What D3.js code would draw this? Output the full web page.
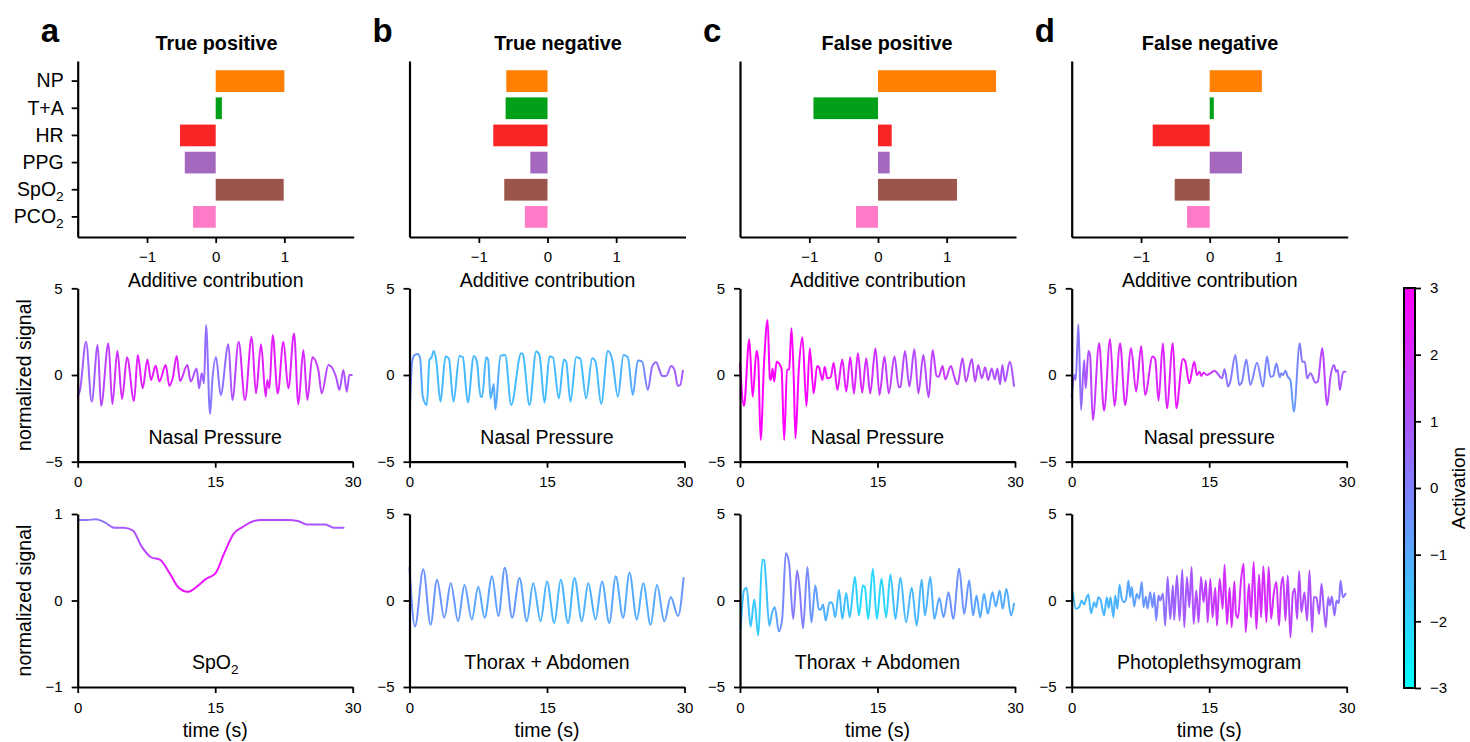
<!DOCTYPE html>
<html>
<head>
<meta charset="utf-8">
<script src="https://cdn.jsdelivr.net/npm/d3@7"></script>
<style>
  body { margin: 0; background: #fff; }
  svg { font-family: "Liberation Sans", Arial, Helvetica, sans-serif; }
</style>
</head>
<body>
<svg id="fig" width="1470" height="742"></svg>
<script>
// ---------- data ----------
const features = ["NP", "T+A", "HR", "PPG", "SpO₂", "PCO₂"];
const featureColors = ["#ff7f00", "#00a018", "#fa2525", "#a468be", "#9c554a", "#ff7ac7"];
const panelLetters = ["a", "b", "c", "d"];
const panelTitles = ["True positive", "True negative", "False positive", "False negative"];

// additive contribution of each feature, one array per panel
const contribTP = [1.0, 0.09, -0.52, -0.45, 0.99, -0.33];
const contribTN = [-0.6, -0.61, -0.79, -0.25, -0.63, -0.33];
const contribFP = [1.72, -0.94, 0.2, 0.17, 1.15, -0.32];
const contribFN = [0.76, 0.06, -0.83, 0.47, -0.51, -0.33];

const contribTicks = [-1, 0, 1];
const timeTicks = [0, 15, 30];
const signalTicks = [-5, 0, 5];
const spo2Ticks = [-1, 0, 1];
const activationTicks = [-3, -2, -1, 0, 1, 2, 3];

const midLabels = ["Nasal Pressure", "Nasal Pressure", "Nasal Pressure", "Nasal pressure"];
const botLabels = ["SpO₂", "Thorax + Abdomen", "Thorax + Abdomen", "Photoplethsymogram"];

// signals: [time (s), normalized value]
const tpNasal = [[0,-1.25],[0.25,-0.87],[0.91,1.92],[1.53,-1.54],[2.18,1.73],[2.55,-1.79],[3.35,1.83],[3.78,-1.69],[4.33,1.4],[4.84,-1.38],[5.38,1.02],[6.15,-1.5],[6.55,1.15],[7.09,-0.77],[7.6,0.9],[8.0,-0.29],[8.51,0.54],[8.91,-0.38],[9.6,0.58],[10.0,-0.63],[10.36,-0.19],[10.8,1.1],[11.16,-0.35],[11.96,0.58],[12.33,-0.38],[12.98,0.38],[13.24,-0.77],[13.53,0.1],[13.78,-0.48],[14.0,2.88],[14.44,-2.25],[14.69,-0.29],[15.09,1.02],[15.6,-1.15],[16.44,1.77],[16.87,-1.44],[17.56,1.92],[18.25,-1.44],[18.98,2.21],[19.45,-1.06],[20.0,1.77],[20.51,-1.25],[20.69,-0.29],[20.91,-0.77],[21.27,2.31],[21.82,-1.06],[22.44,1.92],[22.98,-0.77],[23.6,2.4],[24.07,-1.69],[24.62,1.44],[25.05,-1.44],[25.6,1.02],[26.25,0.29],[26.62,-1.06],[27.35,0.58],[28.18,-0.1],[28.55,-0.87],[28.98,0.29],[29.35,-0.96],[29.64,0],[29.9,0]];
const tnNasal = [[0.07,-1.54],[0.29,0.77],[0.55,1.15],[0.91,1.21],[1.16,0.96],[1.45,-1.25],[1.89,-1.73],[2.18,0.87],[2.4,1.02],[2.65,1.38],[2.91,0.87],[3.38,-1.54],[3.93,1.06],[4.29,0.96],[4.8,-1.54],[5.45,1.1],[5.82,1.02],[6.36,-1.58],[7.02,1.1],[7.35,0.77],[7.75,-1.25],[7.93,-1.25],[8.36,1.02],[8.58,0.87],[8.84,-1.35],[9.2,-0.52],[9.35,-1.98],[9.93,1.1],[10.44,1.15],[11.09,-1.73],[12.18,1.25],[12.36,1.21],[13.09,-1.73],[13.82,1.35],[14.18,1.15],[14.73,-1.6],[15.27,1.06],[15.64,1.02],[16.29,-1.35],[16.84,0.9],[17.09,0.77],[17.56,-1.54],[18.18,1.02],[18.62,0.96],[19.27,-1.35],[19.93,0.96],[20.29,0.77],[20.91,-1.67],[21.64,1.38],[22.11,0.9],[22.73,-1.25],[23.35,1.15],[23.82,1.02],[24.36,-1.15],[24.91,0.83],[25.38,0.77],[26.0,-0.87],[26.47,0.48],[26.91,0.73],[27.27,0.29],[27.56,-0.06],[28.0,-0.06],[28.55,0.52],[28.91,0.29],[29.27,-0.63],[29.53,-0.58],[29.82,0.25]];
const fpNasal = [[0,0.67],[0.43,-1.79],[1.01,2.06],[1.38,-1.25],[1.81,1.4],[1.99,0.87],[2.25,-3.75],[2.64,0.87],[3.01,3.17],[3.26,-0.19],[3.37,-0.29],[3.55,0.38],[3.73,-0.38],[3.99,0.77],[4.53,0.38],[4.82,-3.75],[5.14,0.29],[5.36,0.33],[5.62,2.69],[5.87,-0.29],[6.05,-3.65],[6.41,0.29],[6.81,2.17],[7.25,-1.79],[7.61,1.54],[8.04,-1.06],[8.41,0.52],[8.62,0.44],[8.99,-0.29],[9.24,0.48],[9.53,-0.19],[9.89,-0.13],[10.22,0.71],[10.62,-0.87],[11.16,0.9],[11.59,-0.96],[12.03,1.02],[12.43,-1.06],[12.86,1.25],[13.33,-1.02],[13.77,0.96],[14.2,-1.06],[14.78,1.54],[15.22,-1.15],[15.76,1.06],[16.23,-1.06],[16.85,1.06],[17.32,-0.71],[17.5,-0.67],[18.0,1.38],[18.48,-0.67],[19.02,1.48],[19.46,-1.06],[20.0,1.15],[20.58,-1.29],[21.01,1.44],[21.45,-0.06],[21.67,-0.1],[22.1,0.52],[22.39,-0.25],[23.01,0.52],[23.37,-0.1],[23.73,-0.54],[24.28,0.96],[24.64,-0.38],[25.29,0.92],[25.65,-0.38],[25.98,0.58],[26.38,-0.19],[26.74,0.44],[27.07,-0.29],[27.46,0.38],[27.79,-0.25],[28.08,0.38],[28.37,-0.54],[28.62,0.58],[28.91,-0.38],[29.42,0.77],[29.89,-0.63]];
const fnNasal = [[0,-1.25],[0.29,0],[0.44,-0.29],[0.73,2.92],[1.02,-2.02],[1.35,0.87],[1.53,-0.77],[1.82,1.38],[2.0,1.15],[2.3,-2.6],[2.99,1.83],[3.53,-2.06],[4.19,2.08],[4.66,-1.79],[5.28,1.83],[5.83,-1.73],[6.48,1.54],[7.03,-0.96],[7.58,1.67],[8.01,-1.15],[8.82,1.06],[9.11,0.9],[9.47,-1.48],[9.95,1.83],[10.38,-1.92],[11.04,1.83],[11.4,-1.92],[12.13,0.92],[12.39,0.77],[12.82,-0.48],[13.37,0.77],[13.66,0],[13.95,0.19],[14.13,-0.06],[14.39,0.13],[14.75,0],[15.12,0.1],[15.59,0.25],[16.03,0],[16.39,-0.19],[16.68,0.33],[17.05,-0.67],[17.3,-0.38],[17.85,1.15],[18.29,-0.58],[18.58,-0.38],[19.05,0.9],[19.49,-0.58],[20.22,0.71],[20.87,-0.67],[21.31,1.06],[21.68,-0.1],[21.97,-0.06],[22.33,0.67],[22.7,-0.13],[22.84,0.1],[23.06,0],[23.32,0.25],[23.57,-0.1],[23.86,-0.29],[24.23,-2.12],[24.88,1.83],[25.14,0.77],[25.43,0.77],[25.68,-0.19],[26.05,0.1],[26.59,-0.44],[26.85,-0.38],[27.32,1.54],[27.87,-1.73],[28.23,-0.1],[28.6,0.58],[28.85,0.19],[29.03,0.29],[29.25,-0.87],[29.62,0.19],[29.87,0.19]];
const tpSpO2 = [[0,0.93],[1,0.93],[2,0.94],[3,0.9],[4,0.84],[5,0.84],[6,0.81],[7,0.62],[8,0.5],[9,0.47],[10,0.32],[11,0.15],[12,0.1],[13,0.16],[14,0.25],[15,0.31],[16,0.55],[17,0.77],[18,0.85],[19,0.91],[20,0.93],[21,0.93],[22,0.93],[23,0.93],[24,0.92],[25,0.88],[26,0.88],[27,0.88],[28,0.84],[29,0.84]];
const tnThoraxAbd = [[0,1.9],[0.6,-1.5],[1.5,1.8],[2.3,-1.4],[3.0,1.2],[3.8,-1.0],[4.5,1.0],[5.3,-1.2],[6.0,0.9],[6.8,-1.1],[7.5,0.8],[8.2,-1.0],[9.0,1.4],[9.7,-0.9],[10.4,1.9],[11.2,-1.0],[12.0,1.3],[12.8,-1.2],[13.5,1.0],[14.3,-1.2],[15.0,1.1],[15.8,-1.3],[16.5,1.2],[17.3,-1.3],[18.0,1.3],[18.8,-1.2],[19.5,1.0],[20.3,-1.1],[21.0,1.1],[21.8,-1.3],[22.5,1.4],[23.3,-1.0],[24.0,1.6],[24.8,-1.1],[25.5,1.0],[26.3,-1.4],[27.0,0.9],[27.8,-1.2],[28.5,0.2],[29.3,-0.9],[29.9,1.3]];
const fpThoraxAbd = [[0.07,-1.65],[0.43,0.58],[0.72,0.74],[1.16,-1.51],[1.56,0.06],[1.99,-2.03],[2.43,2.36],[2.64,2.33],[2.83,1.16],[3.19,-1.45],[3.51,-0.68],[3.8,-0.39],[4.24,-1.78],[4.6,-1.07],[5.0,2.75],[5.36,2.13],[5.8,-1.07],[6.23,1.74],[6.52,0.58],[6.88,-1.61],[7.36,1.94],[7.79,-1.26],[8.22,0.87],[8.59,-0.48],[8.8,-0.54],[9.06,-0.23],[9.35,-1.16],[9.78,-0.1],[10.07,-0.16],[10.4,-0.97],[10.8,0.62],[11.16,-1.07],[11.59,0.43],[11.96,-0.97],[12.54,1.36],[12.97,-0.87],[13.41,0.87],[13.62,0.78],[13.99,-1.07],[14.49,1.84],[14.93,-1.07],[15.43,1.26],[15.94,-0.97],[16.41,1.51],[16.96,-1.07],[17.5,1.32],[18.12,-1.26],[18.73,0.74],[19.28,-1.45],[19.82,1.2],[20.18,-0.87],[20.76,1.36],[21.2,-1.07],[21.74,0.14],[22.21,-0.97],[22.75,0.48],[23.26,-1.07],[23.91,1.84],[24.46,-0.78],[25.0,1.16],[25.43,-0.87],[25.8,0.29],[26.2,-0.97],[26.63,0.39],[27.03,-0.78],[27.54,0.48],[27.9,-0.35],[28.33,0.58],[28.66,-0.48],[29.06,0.68],[29.57,-0.87],[29.89,-0.19]];
const fnPPG = [[0.11,0.48],[0.47,-0.48],[0.84,-0.35],[1.09,0],[1.35,-0.23],[1.64,0.19],[1.82,0.35],[2.11,-0.74],[2.44,-0.1],[2.66,-0.39],[2.91,0.19],[3.17,0],[3.53,-0.87],[3.83,0.19],[4.04,-0.43],[4.23,0.19],[4.55,-0.97],[4.74,0.29],[4.99,-0.48],[5.21,0.91],[5.46,0.1],[5.72,-0.1],[5.94,0.1],[6.19,1.16],[6.38,0.19],[6.56,0.78],[6.81,-0.35],[7.1,0.39],[7.36,0.1],[7.65,1.07],[7.83,-0.39],[8.09,0.23],[8.27,-0.48],[8.56,0.48],[8.82,-0.39],[9.0,0.45],[9.22,-1.16],[9.47,0.29],[9.65,0],[9.95,0.39],[10.2,-1.45],[10.46,1.36],[10.75,-1.07],[11.04,0.87],[11.18,-1.12],[11.48,1.45],[11.77,-1.16],[12.06,1.78],[12.28,-1.55],[12.57,1.36],[12.82,-0.39],[13.08,1.94],[13.3,-1.36],[13.59,0.58],[13.84,-1.26],[14.1,1.36],[14.39,-0.1],[14.64,1.16],[14.83,-1.26],[15.12,1.26],[15.37,-0.97],[15.66,0.74],[15.85,-1.45],[16.14,1.26],[16.47,-0.48],[16.68,2.07],[16.94,-1.36],[17.23,0.74],[17.45,-1.55],[17.74,1.1],[17.92,-0.78],[18.14,-1.01],[18.47,1.16],[18.76,2.13],[18.98,-1.84],[19.34,0.97],[19.56,-0.97],[19.85,2.23],[20.15,-1.65],[20.44,1.51],[20.66,-0.97],[20.91,1.98],[21.24,-1.26],[21.49,1.94],[21.75,-1.07],[22.04,0.39],[22.33,1.07],[22.62,-1.45],[22.84,0.78],[23.06,1.36],[23.32,-1.16],[23.57,1.45],[23.86,-2.13],[24.12,0.39],[24.34,0.68],[24.59,-1.07],[24.81,1.69],[25.06,-0.68],[25.39,0.48],[25.68,-1.16],[25.94,1.74],[26.23,-1.84],[26.41,0.19],[26.7,0.19],[26.99,-0.78],[27.25,0.97],[27.5,-0.48],[27.72,-1.55],[27.98,0.19],[28.16,-0.29],[28.38,0.23],[28.67,-0.87],[28.89,0],[29.14,-0.16],[29.33,1.16],[29.58,0.19],[29.87,0.39]];

// model activation along each signal: [time (s), activation]
const tpNasalAct = [[0,1.0],[1.5,0.6],[2.5,1.3],[4,1.8],[6,2.2],[9,2.5],[11,2.2],[12.3,1.3],[13.8,0.6],[14.5,0.1],[16,0.4],[17,1.2],[18,2.2],[22,2.4],[25,2.0],[26.5,1.5],[28,1.1],[30,1.0]];
const tnNasalAct = [[0,-0.3],[1,-0.8],[2,-1.4],[8.5,-1.3],[9.3,-0.9],[10.5,-1.4],[20,-1.4],[24,-1.2],[25.5,-0.4],[26.5,0.6],[30,0.9]];
const fpNasalAct = [[0,3],[8,3],[10,2.6],[13,2.1],[16,1.6],[18,1.2],[20.5,1.3],[22,1.8],[23.5,1.4],[27,1.2],[30,1.0]];
const fnNasalAct = [[0,0.6],[0.8,0.2],[1.5,1.0],[3,2.0],[10,2.2],[12,2.6],[14,2.4],[15.5,1.6],[16.5,0.5],[18,-0.1],[23.5,-0.2],[24.2,-0.7],[25,0.2],[26.5,0.8],[27.5,1.5],[28.5,1.0],[30,1.0]];
const tpSpO2Act = [[0,0.1],[3,0.3],[4,0.8],[7,1.2],[8.5,1.8],[10,2.6],[16,2.6],[17.5,2.0],[19,1.4],[24,1.2],[26,0.9],[29,0.9]];
const tnThoraxAbdAct = [[0,-0.4],[5,-0.6],[8,-1.0],[11,-0.5],[14,-1.2],[18,-1.3],[22,-0.9],[26,-1.1],[30,-0.5]];
const fpThoraxAbdAct = [[0,-1.4],[2.4,-1.9],[3.5,-1.2],[4.7,-0.2],[6.5,0.2],[8,-0.6],[9,-1.1],[12,-1.6],[13,-2.1],[16,-2.0],[17,-1.4],[21,-1.2],[23,-0.4],[24.5,-0.4],[26,-1.0],[30,-1.1]];
const fnPPGAct = [[0,-1.4],[5,-1.2],[7,-0.8],[9,-0.3],[10.5,0.6],[13,1.0],[15,1.6],[17,2.0],[22,2.0],[24,1.4],[27,1.0],[29,0.3],[30,0.2]];

const contribs = [contribTP, contribTN, contribFP, contribFN];
const midSignals = [[tpNasal, tpNasalAct], [tnNasal, tnNasalAct], [fpNasal, fpNasalAct], [fnNasal, fnNasalAct]];
const botSignals = [[tpSpO2, tpSpO2Act], [tnThoraxAbd, tnThoraxAbdAct], [fpThoraxAbd, fpThoraxAbdAct], [fnPPG, fnPPGAct]];

// ---------- layout ----------
const svg = d3.select("#fig");
const colLeft = [77.7, 409.5, 740, 1071.7];
const barW = 276, sigW = 275;
const barRow = [61, 237], midRow = [288.3, 461.7], botRow = [514, 687];
const titleX = [216.5, 558, 887, 1210];
const FONT = "'Liberation Sans', Arial, Helvetica, sans-serif";
const intFmt = d3.format("d");

const activationColor = d3.scaleLinear().domain([-3, 3]).range(["#00ffff", "#ff00ff"]).clamp(true);
const defs = svg.append("defs");

function styleAxis(g, fs) {
  g.attr("font-family", FONT).attr("font-size", fs || 15);
  g.select(".domain").attr("stroke", "#000").attr("stroke-width", 2.2);
  g.selectAll(".tick line").attr("stroke", "#000").attr("stroke-width", 1.8);
  g.selectAll(".tick text").attr("fill", "#000");
}

// write a label, turning "₂" into a lowered small 2
function writeSub(textSel, str) {
  textSel.text(null);
  const parts = str.split("₂");
  textSel.append("tspan").text(parts[0]);
  if (parts.length > 1) {
    textSel.append("tspan").attr("font-size", "70%").attr("dy", "0.35em").text("2");
  }
}

// ---------- bar panels ----------
contribs.forEach((vals, i) => {
  const L = colLeft[i];
  const g = svg.append("g");
  const x = d3.scaleLinear().domain([-2.01, 2.01]).range([L, L + barW]);
  const y = d3.scaleBand().domain(features).range([barRow[0], barRow[1]]).paddingInner(0.2).paddingOuter(0.34);

  g.selectAll("rect").data(vals).join("rect")
    .attr("x", d => x(Math.min(0, d)))
    .attr("width", d => Math.abs(x(d) - x(0)))
    .attr("y", (d, k) => y(features[k]))
    .attr("height", y.bandwidth())
    .attr("fill", (d, k) => featureColors[k]);

  const xa = g.append("g").attr("transform", `translate(0,${barRow[1]})`)
    .call(d3.axisBottom(x).tickValues(contribTicks).tickFormat(intFmt).tickSize(6).tickSizeOuter(0).tickPadding(8));
  styleAxis(xa);

  const ya = g.append("g").attr("transform", `translate(${L},0)`)
    .call(d3.axisLeft(y).tickSize(i === 0 ? 6 : 0).tickSizeOuter(0).tickPadding(8));
  styleAxis(ya, 19.5);
  if (i === 0) {
    ya.selectAll(".tick text").each(function (d) { writeSub(d3.select(this), d); });
  } else {
    ya.selectAll(".tick").remove();
  }

  g.append("text").attr("x", L + barW / 2).attr("y", 287).attr("text-anchor", "middle")
    .attr("font-size", 19.5).text("Additive contribution");
  g.append("text").attr("x", titleX[i]).attr("y", 50).attr("text-anchor", "middle")
    .attr("font-size", 19.8).attr("font-weight", "bold").text(panelTitles[i]);
  g.append("text").attr("x", L - 37).attr("y", 42).attr("font-size", 33)
    .attr("font-weight", "bold").text(panelLetters[i]);
});

// ---------- signal panels ----------
function signalPanel(i, row, series, act, yDomain, yTicks, label, id, xLabel) {
  const L = colLeft[i];
  const g = svg.append("g");
  const x = d3.scaleLinear().domain([0, 30]).range([L, L + sigW]);
  const y = d3.scaleLinear().domain(yDomain).range([row[1], row[0]]);

  const grad = defs.append("linearGradient").attr("id", id)
    .attr("gradientUnits", "userSpaceOnUse")
    .attr("x1", x(0)).attr("x2", x(30)).attr("y1", 0).attr("y2", 0);
  grad.selectAll("stop").data(act).join("stop")
    .attr("offset", d => d[0] / 30)
    .attr("stop-color", d => activationColor(d[1]));

  const line = d3.line().x(d => x(d[0])).y(d => y(d[1])).curve(d3.curveMonotoneX);
  g.append("path").datum(series).attr("d", line)
    .attr("fill", "none").attr("stroke", `url(#${id})`)
    .attr("stroke-width", 2).attr("stroke-linejoin", "round").attr("stroke-linecap", "round");

  const xa = g.append("g").attr("transform", `translate(0,${row[1]})`)
    .call(d3.axisBottom(x).tickValues(timeTicks).tickFormat(intFmt).tickSize(6).tickSizeOuter(0).tickPadding(9));
  styleAxis(xa);
  const ya = g.append("g").attr("transform", `translate(${L},0)`)
    .call(d3.axisLeft(y).tickValues(yTicks).tickFormat(intFmt).tickSize(6).tickSizeOuter(0).tickPadding(9));
  styleAxis(ya);

  const t = g.append("text").attr("x", L + sigW / 2).attr("y", row[1] - 18)
    .attr("text-anchor", "middle").attr("font-size", 19.5);
  writeSub(t, label);

  if (i === 0) {
    g.append("text").attr("transform", `translate(31,${(row[0] + row[1]) / 2}) rotate(-90)`)
      .attr("text-anchor", "middle").attr("font-size", 19.5).text("normalized signal");
  }
  if (xLabel) {
    g.append("text").attr("x", L + sigW / 2).attr("y", 737).attr("text-anchor", "middle")
      .attr("font-size", 19.5).text("time (s)");
  }
}

midSignals.forEach((s, i) => signalPanel(i, midRow, s[0], s[1], [-5, 5], signalTicks, midLabels[i], "gm" + i, false));
botSignals.forEach((s, i) => {
  const isSpO2 = i === 0;
  signalPanel(i, botRow, s[0], s[1], isSpO2 ? [-1, 1] : [-5, 5], isSpO2 ? spo2Ticks : signalTicks, botLabels[i], "gb" + i, true);
});

// ---------- colorbar ----------
const cb = { x: 1404, w: 11, top: 288, bottom: 688 };
const cbScale = d3.scaleLinear().domain([-3, 3]).range([cb.bottom, cb.top]);
const cbGrad = defs.append("linearGradient").attr("id", "cbGrad")
  .attr("x1", 0).attr("x2", 0).attr("y1", 1).attr("y2", 0);
cbGrad.selectAll("stop").data(activationTicks).join("stop")
  .attr("offset", d => (d + 3) / 6)
  .attr("stop-color", d => activationColor(d));
svg.append("rect").attr("x", cb.x).attr("y", cb.top).attr("width", cb.w).attr("height", cb.bottom - cb.top)
  .attr("fill", "url(#cbGrad)").attr("stroke", "#000").attr("stroke-width", 2);
const cbAxis = svg.append("g").attr("transform", `translate(${cb.x + cb.w},0)`)
  .call(d3.axisRight(cbScale).tickValues(activationTicks).tickFormat(intFmt).tickSize(6).tickSizeOuter(0).tickPadding(9));
styleAxis(cbAxis);
cbAxis.select(".domain").remove();
svg.append("text").attr("transform", `translate(1465,488) rotate(-90)`)
  .attr("text-anchor", "middle").attr("font-size", 19).text("Activation");

svg.selectAll("text").attr("font-family", FONT);
</script>
</body>
</html>
